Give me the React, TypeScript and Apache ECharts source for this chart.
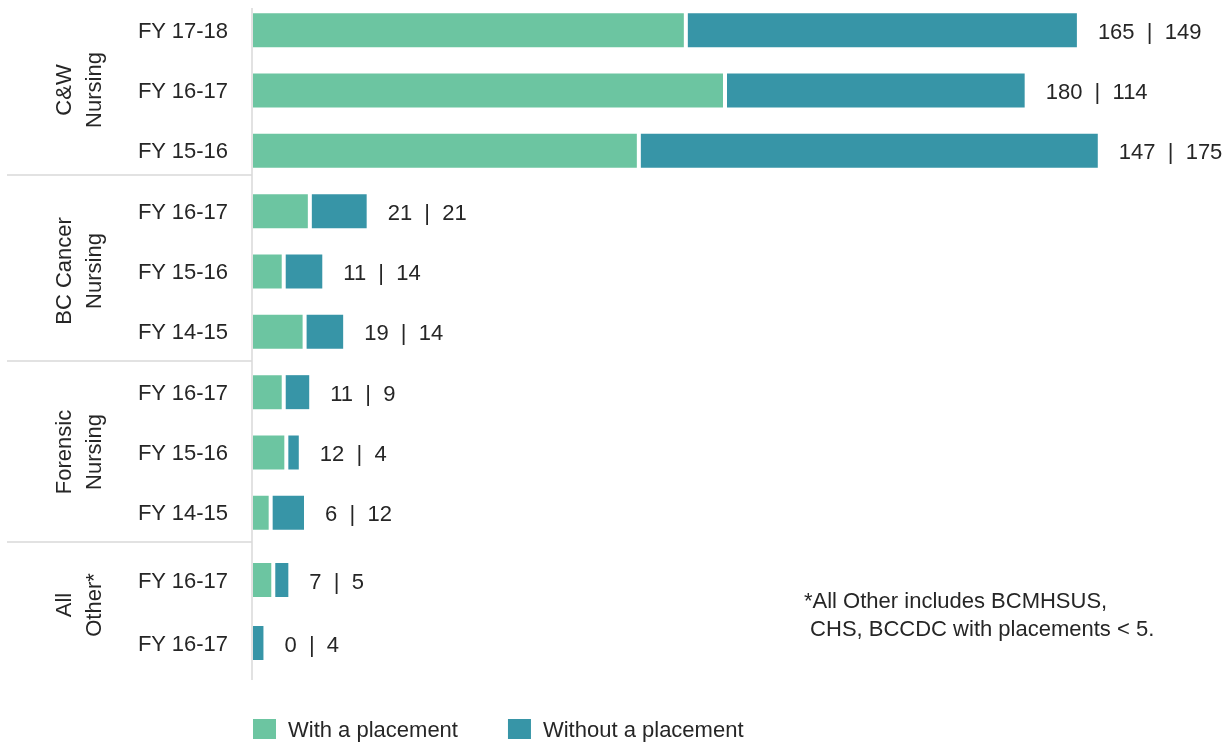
import React, { useEffect, useRef } from "react";
import * as echarts from "echarts";

const rowLabels = [
  "FY 17-18", "FY 16-17", "FY 15-16",
  "FY 16-17", "FY 15-16", "FY 14-15",
  "FY 16-17", "FY 15-16", "FY 14-15",
  "FY 16-17", "FY 16-17",
];
const withPlacement = [165, 180, 147, 21, 11, 19, 11, 12, 6, 7, 0];
const withoutPlacement = [149, 114, 175, 21, 14, 14, 9, 4, 12, 5, 4];
const groupLabels = ["C&W\nNursing", "BC Cancer\nNursing", "Forensic\nNursing", "All\nOther*"];
const seriesNames = ["With a placement", "Without a placement"];
const footnote = "*All Other includes BCMHSUS,\n CHS, BCCDC with placements < 5.";

const GREEN = "#6cc5a1";
const TEAL = "#3795a7";
const TEXT = "#262626";
const FONT = "Liberation Sans";
const SPLIT = 9;
const BAR_H = 34;
const GAP = 4;

export default function App() {
  const ref = useRef<HTMLDivElement>(null);
  useEffect(() => {
    if (!ref.current) return;
    const chart = echarts.init(ref.current, null, { renderer: "svg" });

    const makeSeries = (gridIdx: number, start: number, end: number) => {
      const g = withPlacement.slice(start, end);
      const t = withoutPlacement.slice(start, end);
      return [
        {
          name: seriesNames[0],
          type: "bar",
          xAxisIndex: gridIdx,
          yAxisIndex: gridIdx,
          barWidth: BAR_H,
          data: g,
          itemStyle: { color: GREEN },
        },
        {
          name: seriesNames[1],
          type: "custom",
          xAxisIndex: gridIdx,
          yAxisIndex: gridIdx,
          itemStyle: { color: TEAL },
          encode: { x: 1, y: 2 },
          data: t.map((v, i) => [g[i], v, i]),
          renderItem: (params: any, api: any) => {
            const gv = api.value(0);
            const tv = api.value(1);
            const row = api.value(2);
            const p0 = api.coord([0, row]);
            const pg = api.coord([gv, row]);
            const pt = api.coord([tv, row]);
            const tw = pt[0] - p0[0];
            const tx = gv > 0 ? pg[0] + GAP : p0[0];
            return {
              type: "group",
              children: [
                {
                  type: "rect",
                  shape: { x: tx, y: p0[1] - BAR_H / 2, width: tw, height: BAR_H },
                  style: { fill: TEAL },
                },
                {
                  type: "text",
                  x: tx + tw + 21,
                  y: p0[1] + 1,
                  style: {
                    text: `${gv}  |  ${tv}`,
                    fontFamily: FONT,
                    fontSize: 22,
                    fill: TEXT,
                    align: "left",
                    verticalAlign: "middle",
                  },
                },
              ],
            };
          },
        },
      ];
    };

    const xAxisBase = { type: "value", min: 0, max: 360, show: false };
    const yAxisBase = {
      type: "category",
      inverse: true,
      axisLine: { show: false },
      axisTick: { show: false },
      splitLine: { show: false },
      axisLabel: { margin: 25, fontFamily: FONT, fontSize: 22, color: TEXT },
    };

    const groupCenters = [90, 271, 452, 605];
    const sepYs = [175, 361, 542];

    chart.setOption({
      animation: false,
      textStyle: { fontFamily: FONT },
      grid: [
        { left: 253, top: 0, width: 940, height: 543 },
        { left: 253, top: 548.5, width: 940, height: 126 },
      ],
      xAxis: [
        { ...xAxisBase, gridIndex: 0 },
        { ...xAxisBase, gridIndex: 1 },
      ],
      yAxis: [
        { ...yAxisBase, gridIndex: 0, data: rowLabels.slice(0, SPLIT) },
        { ...yAxisBase, gridIndex: 1, data: rowLabels.slice(SPLIT) },
      ],
      legend: {
        data: seriesNames,
        left: 253,
        top: 718,
        padding: 0,
        itemWidth: 23,
        itemHeight: 20,
        itemGap: 50,
        icon: "rect",
        textStyle: { fontFamily: FONT, fontSize: 22, color: TEXT, padding: [0, 0, 0, 7] },
      },
      series: [...makeSeries(0, 0, SPLIT), ...makeSeries(1, SPLIT, rowLabels.length)],
      graphic: [
        {
          type: "line",
          z: 100,
          shape: { x1: 252, y1: 8, x2: 252, y2: 680 },
          style: { stroke: "#d9d9d9", lineWidth: 1.5 },
        },
        ...sepYs.map((y) => ({
          type: "line",
          z: 100,
          shape: { x1: 7, y1: y, x2: 252, y2: y },
          style: { stroke: "#d9d9d9", lineWidth: 1.5 },
        })),
        ...groupLabels.map((txt, i) => ({
          type: "text",
          x: 78,
          y: groupCenters[i],
          rotation: Math.PI / 2,
          style: {
            text: txt,
            fontFamily: FONT,
            fontSize: 22,
            lineHeight: 30,
            fill: TEXT,
            align: "center",
            verticalAlign: "middle",
          },
        })),
        {
          type: "text",
          x: 804,
          y: 586,
          style: {
            text: footnote,
            fontFamily: FONT,
            fontSize: 22,
            lineHeight: 28,
            fill: TEXT,
            align: "left",
            verticalAlign: "top",
          },
        },
      ],
    });
    return () => chart.dispose();
  }, []);
  return (
    <div
      ref={ref}
      style={{ position: "fixed", left: 0, top: 0, width: 1224, height: 743 }}
    />
  );
}
